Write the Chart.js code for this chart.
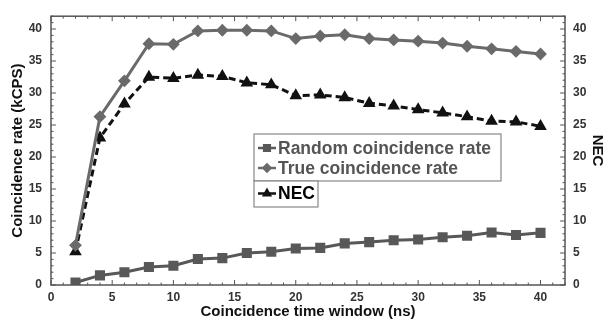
<!DOCTYPE html>
<html lang="en">
<head>
    <meta charset="UTF-8">
    <title>Coincidence rate</title>
    <script src="https://cdn.jsdelivr.net/npm/chart.js"></script>
    <style>
        html, body { margin: 0; padding: 0; background: #fff; }
        .chart-box { width: 609px; height: 326px; }
    </style>
</head>
<body>
    <div class="chart-box">
        <canvas id="coincChart"></canvas>
    </div>
    <script>
        // Data
        const windows = [2, 4, 6, 8, 10, 12, 14, 16, 18, 20, 22, 24, 26, 28, 30, 32, 34, 36, 38, 40];
        const randomRate = [0.4, 1.5, 2.0, 2.8, 3.0, 4.05, 4.2, 5.0, 5.2, 5.7, 5.8, 6.5, 6.7, 7.0, 7.1, 7.45, 7.7, 8.2, 7.8, 8.15];
        const trueRate = [6.2, 26.3, 31.9, 37.7, 37.6, 39.7, 39.8, 39.8, 39.7, 38.5, 38.9, 39.1, 38.5, 38.3, 38.1, 37.8, 37.3, 36.9, 36.5, 36.1];
        const necValues = [5.2, 23.0, 28.3, 32.5, 32.3, 32.8, 32.6, 31.6, 31.3, 29.6, 29.7, 29.3, 28.4, 28.0, 27.4, 26.9, 26.3, 25.6, 25.5, 24.8];
        const xTicks = [0, 5, 10, 15, 20, 25, 30, 35, 40];
        const yTicks = [0, 5, 10, 15, 20, 25, 30, 35, 40];

        const toPoints = ys => windows.map((x, i) => ({ x: x, y: ys[i] }));
        const FONT = '"Liberation Sans", Arial, sans-serif';

        // Box frame with inward ticks on all four sides
        const framePlugin = {
            id: 'frame',
            afterDraw(chart) {
                const { ctx, chartArea: a, scales } = chart;
                ctx.save();
                ctx.strokeStyle = '#555';
                ctx.lineWidth = 1.5;
                ctx.strokeRect(a.left, a.top, a.right - a.left, a.bottom - a.top);
                ctx.lineWidth = 1;
                for (let v = 0; v <= 42; v++) {
                    const len = v % 5 === 0 ? 5 : 2.5;
                    const px = scales.x.getPixelForValue(v);
                    ctx.beginPath();
                    ctx.moveTo(px, a.bottom); ctx.lineTo(px, a.bottom - len);
                    ctx.moveTo(px, a.top); ctx.lineTo(px, a.top + len);
                    const py = scales.y.getPixelForValue(v);
                    ctx.moveTo(a.left, py); ctx.lineTo(a.left + len, py);
                    const py2 = scales.y2.getPixelForValue(v);
                    ctx.moveTo(a.right, py2); ctx.lineTo(a.right - len, py2);
                    ctx.stroke();
                }
                ctx.restore();
            }
        };

        // Legend drawn as two boxes, like the original figure
        const boxLegend = {
            id: 'boxLegend',
            afterDraw(chart) {
                const { ctx } = chart;
                const ds = chart.data.datasets;
                ctx.save();
                ctx.strokeStyle = '#888';
                ctx.lineWidth = 1.2;
                ctx.fillStyle = '#fff';
                ctx.fillRect(254, 134, 247, 47);
                ctx.strokeRect(254, 134, 247, 47);
                ctx.fillRect(254, 181, 64, 26);
                ctx.strokeRect(254, 181, 64, 26);
                const rows = [[ds[0], 148, '#555'], [ds[1], 168, '#555'], [ds[2], 193.5, '#000']];
                rows.forEach(([d, y, tc]) => {
                    ctx.strokeStyle = d.borderColor;
                    ctx.lineWidth = 2.5;
                    ctx.setLineDash([]);
                    ctx.beginPath();
                    ctx.moveTo(258, y); ctx.lineTo(276, y);
                    ctx.stroke();
                    Chart.helpers.drawPoint(ctx, {
                        pointStyle: d.pointStyle, radius: d.pointRadius * 0.8, borderWidth: 1
                    }, 267, y);
                    ctx.fillStyle = d.borderColor;
                    ctx.fill();
                    ctx.fillStyle = tc;
                    ctx.font = 'bold 17.5px ' + FONT;
                    ctx.textBaseline = 'middle';
                    ctx.fillText(d.label, 278, y + 1);
                });
                ctx.restore();
            }
        };

        const ctxChart = document.getElementById('coincChart').getContext('2d');
        new Chart(ctxChart, {
            type: 'line',
            data: {
                datasets: [{
                    label: 'Random coincidence rate',
                    data: toPoints(randomRate),
                    borderColor: '#585858',
                    backgroundColor: '#585858',
                    borderWidth: 3,
                    pointStyle: 'rect',
                    pointRadius: 5,
                    yAxisID: 'y'
                }, {
                    label: 'True coincidence rate',
                    data: toPoints(trueRate),
                    borderColor: '#6a6a6a',
                    backgroundColor: '#6a6a6a',
                    borderWidth: 3,
                    pointStyle: 'rectRot',
                    pointRadius: 4.3,
                    yAxisID: 'y'
                }, {
                    label: 'NEC',
                    data: toPoints(necValues),
                    borderColor: '#111',
                    backgroundColor: '#111',
                    borderWidth: 3,
                    borderDash: [7, 4],
                    pointStyle: 'triangle',
                    pointRadius: 4.3,
                    yAxisID: 'y2'
                }]
            },
            options: {
                responsive: true,
                maintainAspectRatio: false,
                animation: false,
                layout: { padding: { top: 8, left: 0, right: 0, bottom: 0 } },
                plugins: { legend: { display: false }, tooltip: { enabled: false } },
                elements: { line: { tension: 0 }, point: { borderWidth: 0 } },
                scales: {
                    x: {
                        type: 'linear',
                        min: 0, max: 42,
                        afterFit: s => { s.height = 41; },
                        afterBuildTicks: s => { s.ticks = xTicks.map(v => ({ value: v })); },
                        grid: { display: false, drawTicks: false },
                        border: { display: false },
                        ticks: { padding: 5, color: '#333', font: { family: FONT, size: 12, weight: 'bold' } },
                        title: { display: true, text: 'Coincidence time window (ns)', color: '#111',
                            padding: { top: 0, bottom: 5 }, font: { family: FONT, size: 15, weight: 'bold' } }
                    },
                    y: {
                        position: 'left',
                        min: 0, max: 42,
                        afterFit: s => { s.width = 51; },
                        afterBuildTicks: s => { s.ticks = yTicks.map(v => ({ value: v })); },
                        grid: { display: false, drawTicks: false },
                        border: { display: false },
                        ticks: { padding: 9, color: '#333', font: { family: FONT, size: 12, weight: 'bold' } },
                        title: { display: true, text: 'Coincidence rate (kCPS)', color: '#111',
                            padding: { top: 9, bottom: 0 }, font: { family: FONT, size: 15, weight: 'bold' } }
                    },
                    y2: {
                        position: 'right',
                        min: 0, max: 42,
                        afterFit: s => { s.width = 44; },
                        afterBuildTicks: s => { s.ticks = yTicks.map(v => ({ value: v })); },
                        grid: { display: false, drawTicks: false },
                        border: { display: false },
                        ticks: { padding: 8, color: '#333', font: { family: FONT, size: 12, weight: 'bold' } },
                        title: { display: true, text: 'NEC', color: '#111',
                            padding: { top: 3, bottom: 0 }, font: { family: FONT, size: 15, weight: 'bold' } }
                    }
                }
            },
            plugins: [framePlugin, boxLegend]
        });
    </script>
</body>
</html>
